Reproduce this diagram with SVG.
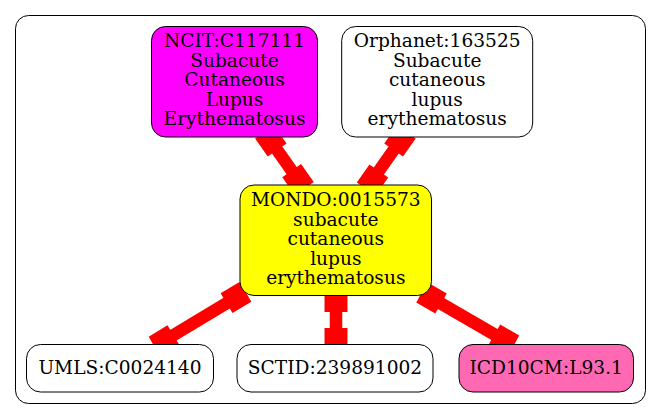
<svg xmlns="http://www.w3.org/2000/svg" width="661" height="419" viewBox="0 0 661 419">
<style>
.node rect{stroke:#000;stroke-width:1}
.node text{font-family:"DejaVu Serif","Liberation Serif",serif;font-size:18.6px;text-anchor:middle;fill:#000}
.edge{stroke:#f00;stroke-width:12.5;fill:none;marker-start:url(#box);marker-end:url(#box)}
</style>
<defs>
<marker id="box" markerUnits="userSpaceOnUse" orient="auto-start-reverse" viewBox="-23 -12 24 24" refX="0" refY="0" markerWidth="24" markerHeight="24" overflow="visible">
<rect x="-22" y="-11.5" width="22" height="23" fill="#f00"/>
</marker>
</defs>
<rect x="15.5" y="15.5" width="630" height="388" rx="13" fill="#fff" stroke="#000" stroke-width="1"/>
<g id="connectors">
<line class="edge" x1="264.5" y1="132" x2="304.3" y2="188.7"/>
<line class="edge" x1="406.3" y1="132" x2="366.2" y2="189"/>
<line class="edge" x1="245.4" y1="291.8" x2="154.6" y2="346.5"/>
<line class="edge" x1="336" y1="290" x2="336" y2="350"/>
<line class="edge" x1="422" y1="292.5" x2="513.5" y2="345.5"/>
</g>
<g id="ncit" class="node">
<rect x="151.5" y="26.5" width="166" height="110.5" rx="14" fill="#ff00ff"/>
<text x="234.5" y="47">NCIT:C117111</text>
<text x="234.5" y="66.5">Subacute</text>
<text x="234.5" y="86">Cutaneous</text>
<text x="234.5" y="105.5">Lupus</text>
<text x="234.5" y="125">Erythematosus</text>
</g>
<g id="orphanet" class="node">
<rect x="341.7" y="26.5" width="191" height="110.5" rx="14" fill="#fff"/>
<text x="437.2" y="47">Orphanet:163525</text>
<text x="437.2" y="66.5">Subacute</text>
<text x="437.2" y="86">cutaneous</text>
<text x="437.2" y="105.5">lupus</text>
<text x="437.2" y="125">erythematosus</text>
</g>
<g id="mondo" class="node">
<rect x="240" y="185" width="191.5" height="110.5" rx="14" fill="#ffff00"/>
<text x="335.8" y="206">MONDO:0015573</text>
<text x="335.8" y="225.5">subacute</text>
<text x="335.8" y="245">cutaneous</text>
<text x="335.8" y="264.5">lupus</text>
<text x="335.8" y="284">erythematosus</text>
</g>
<g id="umls" class="node">
<rect x="26.5" y="344.5" width="187" height="47.5" rx="14" fill="#fff"/>
<text x="120" y="374">UMLS:C0024140</text>
</g>
<g id="sctid" class="node">
<rect x="237" y="344.5" width="196" height="47.5" rx="14" fill="#fff"/>
<text x="335" y="374">SCTID:239891002</text>
</g>
<g id="icd10cm" class="node">
<rect x="459" y="344.5" width="174.5" height="47.5" rx="14" fill="#ff69b4"/>
<text x="546.2" y="374">ICD10CM:L93.1</text>
</g>
</svg>
